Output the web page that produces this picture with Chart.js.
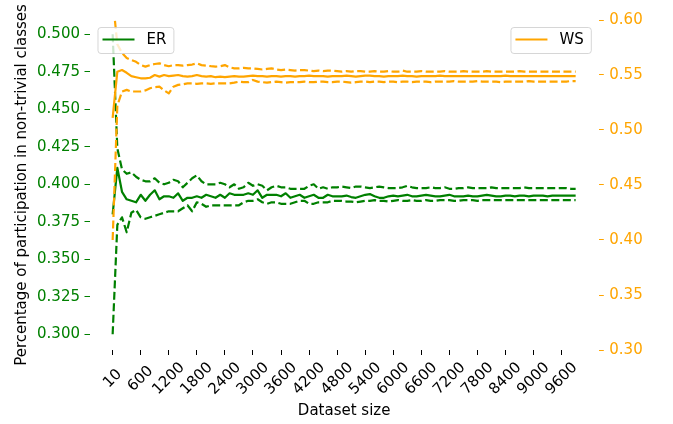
<!DOCTYPE html>
<html>
<head>
<meta charset="utf-8">
<script src="https://cdn.jsdelivr.net/npm/chart.js@4.4.1/dist/chart.umd.min.js"></script>
<style>
html,body{margin:0;padding:0;background:#ffffff;}
#wrap{width:673px;height:424px;}
</style>
</head>
<body>
<div id="wrap"><canvas id="c" width="673" height="424"></canvas></div>
<script>
// ---------- data ----------
const sizes = [10,100,200,300,400,500,600,700,800,900,
  1000,1100,1200,1300,1400,1500,1600,1700,1800,1900,
  2000,2100,2200,2300,2400,2500,2600,2700,2800,2900,
  3000,3100,3200,3300,3400,3500,3600,3700,3800,3900,
  4000,4100,4200,4300,4400,4500,4600,4700,4800,4900,
  5000,5100,5200,5300,5400,5500,5600,5700,5800,5900,
  6000,6100,6200,6300,6400,6500,6600,6700,6800,6900,
  7000,7100,7200,7300,7400,7500,7600,7700,7800,7900,
  8000,8100,8200,8300,8400,8500,8600,8700,8800,8900,
  9000,9100,9200,9300,9400,9500,9600,9700,9800,9900];

const xTickLabels = ['10','600','1200','1800','2400','3000','3600','4200','4800','5400','6000','6600','7200','7800','8400','9000','9600'];
const leftTickValues = [0.300,0.325,0.350,0.375,0.400,0.425,0.450,0.475,0.500];
const rightTickValues = [0.30,0.35,0.40,0.45,0.50,0.55,0.60];

const erMean = [0.380,0.411,0.395,0.390,0.389,0.388,0.393,0.389,0.393,0.396,
  0.390,0.392,0.392,0.391,0.394,0.389,0.391,0.391,0.392,0.391,
  0.393,0.392,0.391,0.393,0.391,0.394,0.393,0.393,0.393,0.394,
  0.393,0.396,0.391,0.393,0.393,0.393,0.392,0.394,0.391,0.392,
  0.393,0.391,0.392,0.393,0.391,0.391,0.393,0.392,0.392,0.392,
  0.3925,0.3915,0.391,0.392,0.393,0.3935,0.392,0.391,0.391,0.392,
  0.3925,0.392,0.3925,0.393,0.392,0.392,0.3925,0.393,0.3925,0.392,
  0.392,0.3925,0.393,0.392,0.392,0.392,0.3925,0.392,0.392,0.3925,
  0.393,0.3925,0.392,0.392,0.3925,0.3925,0.392,0.3925,0.3925,0.392,
  0.3925,0.3925,0.3925,0.392,0.3925,0.3925,0.3925,0.3925,0.3925,0.3925];

const erUpper = [0.500,0.424,0.410,0.407,0.408,0.405,0.403,0.402,0.402,0.404,
  0.401,0.400,0.401,0.403,0.402,0.398,0.401,0.404,0.406,0.402,
  0.400,0.400,0.400,0.401,0.400,0.398,0.400,0.397,0.398,0.401,
  0.399,0.400,0.399,0.396,0.398,0.399,0.398,0.398,0.397,0.397,
  0.397,0.397,0.399,0.400,0.397,0.398,0.397,0.398,0.398,0.3985,
  0.398,0.3975,0.3985,0.3985,0.398,0.3975,0.398,0.3985,0.398,0.3975,
  0.3975,0.3975,0.398,0.399,0.398,0.3975,0.3975,0.3975,0.398,0.3975,
  0.3975,0.398,0.397,0.397,0.3975,0.3975,0.398,0.3975,0.3975,0.3975,
  0.3975,0.398,0.3975,0.3975,0.3975,0.3975,0.3975,0.3975,0.398,0.3975,
  0.3975,0.3975,0.3975,0.3975,0.3975,0.3975,0.3975,0.3975,0.397,0.397];

const erLower = [0.300,0.373,0.378,0.368,0.381,0.383,0.378,0.377,0.378,0.379,
  0.380,0.381,0.382,0.382,0.382,0.384,0.386,0.382,0.388,0.387,
  0.385,0.386,0.386,0.386,0.386,0.386,0.386,0.386,0.388,0.389,
  0.389,0.390,0.388,0.387,0.388,0.388,0.387,0.387,0.387,0.388,
  0.389,0.389,0.387,0.387,0.388,0.388,0.388,0.389,0.389,0.389,
  0.3885,0.3885,0.388,0.3885,0.389,0.389,0.3895,0.389,0.389,0.3885,
  0.389,0.3895,0.389,0.389,0.3895,0.389,0.389,0.3895,0.389,0.389,
  0.3895,0.3895,0.3895,0.389,0.389,0.3895,0.3895,0.3895,0.389,0.3895,
  0.3895,0.3895,0.3895,0.3895,0.3895,0.3895,0.3895,0.3895,0.3895,0.3895,
  0.3895,0.3895,0.3895,0.3895,0.3895,0.3895,0.3895,0.3895,0.3895,0.3895];

const wsMean = [0.511,0.553,0.5545,0.552,0.549,0.548,0.547,0.547,0.5475,0.550,
  0.5485,0.550,0.549,0.5495,0.550,0.549,0.5485,0.549,0.550,0.549,
  0.5485,0.549,0.548,0.5485,0.548,0.5485,0.549,0.5485,0.5485,0.549,
  0.5495,0.549,0.549,0.5485,0.549,0.549,0.5485,0.549,0.549,0.5485,
  0.549,0.549,0.5495,0.549,0.549,0.549,0.5485,0.549,0.549,0.549,
  0.5495,0.549,0.5485,0.549,0.5495,0.5495,0.549,0.549,0.5485,0.549,
  0.549,0.549,0.5495,0.549,0.549,0.5485,0.549,0.549,0.549,0.549,
  0.5495,0.549,0.549,0.549,0.549,0.549,0.549,0.549,0.549,0.549,
  0.549,0.549,0.549,0.549,0.5495,0.549,0.549,0.549,0.549,0.549,
  0.549,0.549,0.549,0.549,0.549,0.549,0.549,0.549,0.549,0.549];

const wsUpper = [0.620,0.578,0.570,0.5655,0.5636,0.562,0.559,0.5576,0.559,0.560,
  0.5606,0.559,0.558,0.559,0.559,0.5585,0.559,0.5595,0.5606,0.559,
  0.5585,0.558,0.5576,0.558,0.559,0.557,0.556,0.556,0.5565,0.556,
  0.556,0.5555,0.555,0.5555,0.556,0.555,0.5545,0.555,0.5545,0.554,
  0.5545,0.5545,0.554,0.5535,0.554,0.5535,0.554,0.554,0.5535,0.553,
  0.5535,0.553,0.5535,0.5535,0.553,0.553,0.5535,0.553,0.553,0.5535,
  0.553,0.553,0.554,0.553,0.553,0.553,0.5535,0.553,0.553,0.553,
  0.553,0.5535,0.553,0.553,0.553,0.5535,0.553,0.553,0.553,0.553,
  0.5535,0.553,0.553,0.553,0.553,0.553,0.553,0.5535,0.553,0.553,
  0.553,0.553,0.553,0.553,0.553,0.553,0.553,0.553,0.553,0.553];

const wsLower = [0.400,0.522,0.535,0.5365,0.535,0.535,0.535,0.536,0.538,0.539,
  0.5394,0.536,0.5333,0.5394,0.541,0.5415,0.5424,0.5424,0.542,0.5424,
  0.5424,0.542,0.5424,0.5424,0.5424,0.5424,0.543,0.5439,0.5435,0.5435,
  0.5455,0.544,0.5435,0.543,0.5435,0.544,0.5435,0.543,0.5435,0.5435,
  0.5435,0.544,0.5435,0.5435,0.544,0.544,0.5435,0.5435,0.544,0.544,
  0.5435,0.543,0.5435,0.544,0.544,0.5435,0.544,0.544,0.5435,0.544,
  0.544,0.5435,0.544,0.544,0.5435,0.544,0.544,0.544,0.5435,0.544,
  0.544,0.544,0.544,0.5445,0.544,0.544,0.544,0.544,0.5445,0.544,
  0.544,0.544,0.544,0.5435,0.544,0.544,0.544,0.544,0.544,0.5445,
  0.544,0.544,0.544,0.544,0.544,0.544,0.544,0.544,0.5445,0.5445];

// ---------- styling ----------
const GREEN = '#008000';
const ORANGE = '#ffa500';
const FONT = '"DejaVu Sans", "Liberation Sans", sans-serif';
Chart.defaults.font.family = FONT;
Chart.defaults.font.size = 15;
Chart.defaults.color = '#000000';

const xTickIdx = xTickLabels.map(l => sizes.indexOf(Number(l)));
const LW = 2.2;
const DASH = [8, 3.5];

function pts(arr) { return arr.map((v, i) => ({ x: i, y: v })); }
function ds(label, data, color, axis, dashed, order) {
  return {
    label, data: pts(data), borderColor: color, backgroundColor: color,
    borderWidth: LW, borderDash: dashed ? DASH : [], borderJoinStyle: 'round',
    pointRadius: 0, pointHoverRadius: 0, tension: 0, fill: false,
    yAxisID: axis, order
  };
}

const twinLegends = {
  id: 'twinLegends',
  afterDraw(chart) {
    const ctx = chart.ctx;
    const ca = chart.chartArea;
    ctx.save();
    ctx.font = '15px ' + FONT;
    function box(x, y, color, text) {
      const tw = ctx.measureText(text).width;
      const w = 5 + 32 + 12 + tw + 7;
      const h = 26;
      ctx.beginPath();
      ctx.roundRect(x + 0.5, y + 0.5, w, h, 3);
      ctx.fillStyle = 'rgba(255,255,255,0.8)';
      ctx.fill();
      ctx.strokeStyle = 'rgba(204,204,204,0.8)';
      ctx.lineWidth = 1;
      ctx.stroke();
      ctx.beginPath();
      ctx.moveTo(x + 5, y + 12.5);
      ctx.lineTo(x + 37, y + 12.5);
      ctx.strokeStyle = color;
      ctx.lineWidth = LW;
      ctx.setLineDash([]);
      ctx.stroke();
      ctx.fillStyle = '#000000';
      ctx.textBaseline = 'middle';
      ctx.textAlign = 'left';
      ctx.fillText(text, x + 49, y + 13.5);
      return w;
    }
    box(ca.left + 8, ca.top + 7, GREEN, 'ER');
    const wsW = 5 + 32 + 12 + ctx.measureText('WS').width + 7;
    box(ca.right - 8 - wsW, ca.top + 7, ORANGE, 'WS');
    ctx.restore();
  }
};

new Chart(document.getElementById('c'), {
  type: 'line',
  data: {
    datasets: [
      ds('ER', erMean, GREEN, 'yL', false, 2),
      ds('ER upper', erUpper, GREEN, 'yL', true, 2),
      ds('ER lower', erLower, GREEN, 'yL', true, 2),
      ds('WS', wsMean, ORANGE, 'yR', false, 1),
      ds('WS upper', wsUpper, ORANGE, 'yR', true, 1),
      ds('WS lower', wsLower, ORANGE, 'yR', true, 1)
    ]
  },
  options: {
    responsive: false,
    devicePixelRatio: 1,
    animation: false,
    events: [],
    layout: { padding: { top: 20, left: 0, right: 0, bottom: 0 } },
    plugins: { legend: { display: false }, tooltip: { enabled: false } },
    scales: {
      x: {
        type: 'linear',
        min: -4.95, max: 103.95,
        afterBuildTicks(scale) { scale.ticks = xTickIdx.map(v => ({ value: v })); },
        afterFit(scale) { scale.height = 74; },
        border: { display: false },
        grid: { drawOnChartArea: false, drawTicks: true, tickLength: 5, tickColor: '#000000', tickWidth: 1 },
        ticks: {
          autoSkip: false, minRotation: 45, maxRotation: 45, padding: 4,
          labelOffset: 13.5, color: '#000000',
          callback(value) {
            const s = String(sizes[value]);
            return s + ' '.repeat(Math.max(0, 4 - s.length) * (s.length === 2 ? 1 : 1));
          }
        },
        title: { display: true, text: 'Dataset size', color: '#000000', padding: { top: 0, bottom: 4 } }
      },
      yL: {
        type: 'linear', position: 'left',
        min: 0.28953, max: 0.50953,
        afterBuildTicks(scale) { scale.ticks = leftTickValues.map(v => ({ value: v })); },
        afterFit(scale) { scale.width = 89.5; },
        border: { display: false },
        grid: { drawOnChartArea: false, drawTicks: true, tickLength: 5, tickColor: GREEN, tickWidth: 1 },
        ticks: { color: GREEN, padding: 4.5, callback: v => Number(v).toFixed(3) },
        title: { display: true, text: 'Percentage of participation in non-trivial classes', color: '#000000', padding: { top: 13.5, bottom: 0 } }
      },
      yR: {
        type: 'linear', position: 'right',
        min: 0.30, max: 0.60,
        afterBuildTicks(scale) { scale.ticks = rightTickValues.map(v => ({ value: v })); },
        afterFit(scale) { scale.width = 74.2; },
        border: { display: false },
        grid: { drawOnChartArea: false, drawTicks: true, tickLength: 5, tickColor: ORANGE, tickWidth: 1 },
        ticks: { color: ORANGE, padding: 5.5, callback: v => Number(v).toFixed(2) }
      }
    }
  },
  plugins: [twinLegends]
});
</script>
</body>
</html>
